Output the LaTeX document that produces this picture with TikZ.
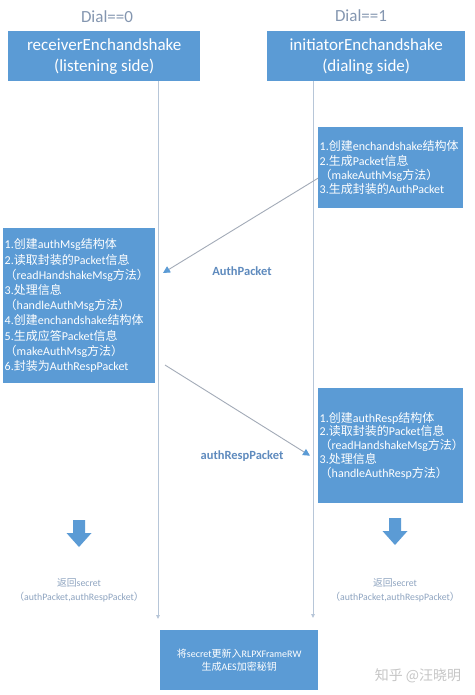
\documentclass[tikz,border=0pt]{standalone}
\usepackage{fontspec}
\setmainfont{Carlito}
\newfontfamily\cjk{Noto Sans CJK SC}
\newcommand{\zh}[1]{{\cjk #1}}
\usetikzlibrary{arrows.meta}

\definecolor{boxblue}{HTML}{5B9BD5}
\definecolor{lifegray}{HTML}{B7C6D8}
\definecolor{msggray}{HTML}{A3ABB8}
\definecolor{dialgray}{HTML}{8496B0}
\definecolor{labelblue}{HTML}{5F8BBE}
\definecolor{notegray}{HTML}{8EA4C0}

\tikzset{
  bluebox/.style={rectangle, fill=boxblue, text=white, anchor=north west, inner ysep=0pt},
  titlebox/.style={bluebox, align=center, font=\fontsize{17}{21}\selectfont},
  stepsbox/.style={bluebox, align=left, inner xsep=1.5pt, font=\fontsize{12}{14.3}\selectfont},
  lifeline/.style={draw=lifegray, line width=0.9pt, -{Triangle[width=3.5pt,length=4pt]}},
  msgline/.style={draw=msggray, line width=0.9pt, -{Triangle[width=7pt,length=7pt,color=boxblue]}},
  msglabel/.style={text=labelblue, font=\fontsize{12.5}{15}\selectfont\bfseries},
  dial/.style={text=dialgray, font=\fontsize{17}{21}\selectfont},
  note/.style={text=notegray, align=center, font=\fontsize{9.8}{14}\selectfont}
}

\begin{document}
\begin{tikzpicture}[x=1pt, y=-1pt]
  \useasboundingbox[fill=white] (0,0) rectangle (474,695);

  % en-tetes
  \node[dial] (dial0) at (107,17) {Dial==0};
  \node[dial] (dial1) at (361,16) {Dial==1};
  \node[titlebox, minimum width=192pt, minimum height=50pt] (recv) at (8,31)
    {receiverEnchandshake\\(listening side)};
  \node[titlebox, minimum width=198pt, minimum height=50pt] (init) at (267,31)
    {initiatorEnchandshake\\(dialing side)};

  % lignes de vie
  \coordinate (lfoot) at (158,619);
  \coordinate (rfoot) at (313,618);
  \draw[lifeline] (recv.south -| lfoot) -- (lfoot);
  \draw[lifeline] (init.south -| rfoot) -- (rfoot);

  % etapes
  \node[stepsbox, text width=142pt, minimum height=81pt] (initsteps) at (318,127)
    {1.\zh{创建}enchandshake\zh{结构体}\\
     2.\zh{生成}Packet\zh{信息}\\
     \zh{（}makeAuthMsg\zh{方法）}\\
     3.\zh{生成封装的}AuthPacket};
  \node[stepsbox, text width=149pt, minimum height=155pt, font=\fontsize{12}{15.2}\selectfont] (recvsteps) at (3,228)
    {1.\zh{创建}authMsg\zh{结构体}\\
     2.\zh{读取封装的}Packet\zh{信息}\\
     \zh{（}readHandshakeMsg\zh{方法）}\\
     3.\zh{处理信息}\\
     \zh{（}handleAuthMsg\zh{方法）}\\
     4.\zh{创建}enchandshake\zh{结构体}\\
     5.\zh{生成应答}Packet\zh{信息}\\
     \zh{（}makeAuthMsg\zh{方法）}\\
     6.\zh{封装为}AuthRespPacket};
  \node[stepsbox, text width=142pt, minimum height=115pt, font=\fontsize{12}{13.8}\selectfont] (respsteps) at (318,388)
    {1.\zh{创建}authResp\zh{结构体}\\
     2.\zh{读取封装的}Packet\zh{信息}\\
     \zh{（}readHandshakeMsg\zh{方法）}\\
     3.\zh{处理信息}\\
     \zh{（}handleAuthResp\zh{方法）}\\[10pt]};

  % messages
  \coordinate (authtip) at (163,273);
  \coordinate (resptail) at (165,365);
  \draw[msgline] ([yshift=-10.5pt]initsteps.west) -- (authtip);
  \draw[msgline] (resptail) -- ([xshift=-8pt,yshift=-10pt]respsteps.west);
  \node[msglabel] (authlbl) at (242,271) {AuthPacket};
  \node[msglabel] (resplbl) at (242,456) {authRespPacket};

  % fleches
  \foreach \x/\y in {79/520, 395/518}{
    \fill[boxblue] (\x-6,\y) -- ++(12,0) -- ++(0,13) -- ++(6.5,0) -- (\x,\y+27)
      -- (\x-12.5,\y+13) -- ++(6.5,0) -- cycle;
  }
  \node[note] (lsecret) at (79,590) {\zh{返回}secret\\\zh{（}authPacket,authRespPacket\zh{）}};
  \node[note] (rsecret) at (395,590) {\zh{返回}secret\\\zh{（}authPacket,authRespPacket\zh{）}};

  % resultat
  \node[bluebox, align=center, minimum width=158pt, minimum height=60pt,
        font=\fontsize{10}{13.5}\selectfont] (frame) at (160,630)
    {\zh{将}secret\zh{更新入}RLPXFrameRW\\\zh{生成}AES\zh{加密秘钥}};

  \node[text=gray!45, font=\fontsize{14}{16}\selectfont\cjk] (mark) at (418,676) {知乎 @汪晓明};
\end{tikzpicture}
\end{document}
